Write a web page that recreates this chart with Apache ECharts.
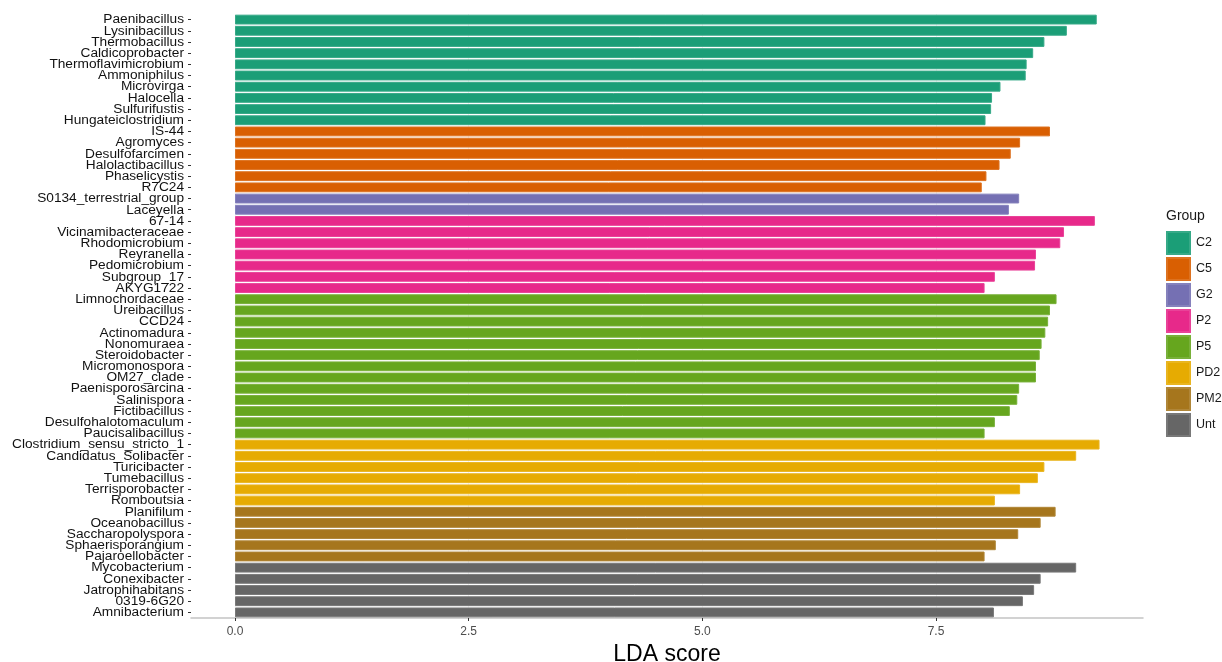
<!DOCTYPE html>
<html>
<head>
<meta charset="utf-8">
<title>LDA score</title>
<script src="https://cdn.jsdelivr.net/npm/echarts@6/dist/echarts.min.js"></script>
<style>
  html, body { margin: 0; padding: 0; background: #fff; }
  #lda-chart { width: 1222px; height: 662px; }
</style>
</head>
<body>
<div id="lda-chart"></div>
<script>
// genus names, top to bottom
const categories = [
  'Paenibacillus', 'Lysinibacillus', 'Thermobacillus', 'Caldicoprobacter', 'Thermoflavimicrobium',
  'Ammoniphilus', 'Microvirga', 'Halocella', 'Sulfurifustis', 'Hungateiclostridium',
  'IS-44', 'Agromyces', 'Desulfofarcimen', 'Halolactibacillus', 'Phaselicystis', 'R7C24',
  'S0134_terrestrial_group', 'Laceyella',
  '67-14', 'Vicinamibacteraceae', 'Rhodomicrobium', 'Reyranella', 'Pedomicrobium', 'Subgroup_17', 'AKYG1722',
  'Limnochordaceae', 'Ureibacillus', 'CCD24', 'Actinomadura', 'Nonomuraea', 'Steroidobacter',
  'Micromonospora', 'OM27_clade', 'Paenisporosarcina', 'Salinispora', 'Fictibacillus',
  'Desulfohalotomaculum', 'Paucisalibacillus',
  'Clostridium_sensu_stricto_1', 'Candidatus_Solibacter', 'Turicibacter', 'Tumebacillus',
  'Terrisporobacter', 'Romboutsia',
  'Planifilum', 'Oceanobacillus', 'Saccharopolyspora', 'Sphaerisporangium', 'Pajaroellobacter',
  'Mycobacterium', 'Conexibacter', 'Jatrophihabitans', '0319-6G20', 'Amnibacterium'
];

// group of each genus
const groups = [
  'C2', 'C2', 'C2', 'C2', 'C2', 'C2', 'C2', 'C2', 'C2', 'C2',
  'C5', 'C5', 'C5', 'C5', 'C5', 'C5',
  'G2', 'G2',
  'P2', 'P2', 'P2', 'P2', 'P2', 'P2', 'P2',
  'P5', 'P5', 'P5', 'P5', 'P5', 'P5', 'P5', 'P5', 'P5', 'P5', 'P5', 'P5', 'P5',
  'PD2', 'PD2', 'PD2', 'PD2', 'PD2', 'PD2',
  'PM2', 'PM2', 'PM2', 'PM2', 'PM2',
  'Unt', 'Unt', 'Unt', 'Unt', 'Unt'
];

// LDA scores
const ldaScores = [
  9.22, 8.90, 8.66, 8.54, 8.47, 8.46, 8.19, 8.10, 8.09, 8.03,
  8.72, 8.40, 8.30, 8.18, 8.04, 7.99,
  8.39, 8.28,
  9.20, 8.87, 8.83, 8.57, 8.56, 8.13, 8.02,
  8.79, 8.72, 8.70, 8.67, 8.63, 8.61, 8.57, 8.57, 8.39, 8.37, 8.29, 8.13, 8.02,
  9.25, 9.00, 8.66, 8.59, 8.40, 8.13,
  8.78, 8.62, 8.38, 8.14, 8.02,
  9.00, 8.62, 8.55, 8.43, 8.12
];

const groupNames = ['C2', 'C5', 'G2', 'P2', 'P5', 'PD2', 'PM2', 'Unt'];
const groupColors = ['#1B9E77', '#D95F02', '#7570B3', '#E7298A', '#66A61E', '#E6AB02', '#A6761D', '#666666'];

const tickValues = [0, 2.5, 5, 7.5];

function initChart() {
  const chart = echarts.init(document.getElementById('lda-chart'), null, {renderer: 'canvas'});

  // one series per group, stacked so every bar takes the full band
  const series = groupNames.map((g, gi) => ({
    name: g,
    type: 'bar',
    stack: 'all',
    barWidth: '88%',
    itemStyle: {
      color: groupColors[gi],
      borderColor: echarts.color.lift(groupColors[gi], 0.12),
      borderWidth: 1
    },
    emphasis: {disabled: true},
    data: ldaScores.map((v, i) => (groups[i] === g ? v : null))
  }));

  const option = {
    animation: false,
    textStyle: {fontFamily: 'Liberation Sans, Arial, sans-serif'},
    title: {
      text: 'Group',
      left: 1166,
      top: 209,
      padding: 0,
      textStyle: {fontSize: 14, fontWeight: 'normal', color: '#1a1a1a'}
    },
    legend: {
      data: groupNames,
      orient: 'vertical',
      left: 1166,
      top: 231,
      padding: 0,
      icon: 'rect',
      itemWidth: 23,
      itemHeight: 22,
      itemGap: 2,
      selectedMode: false,
      textStyle: {fontSize: 12.5, color: '#1a1a1a', padding: [0, 0, 0, 1]}
    },
    grid: {
      left: 191,
      right: 79,
      top: 14,
      bottom: 44,
      containLabel: false,
      outerBoundsMode: 'none'
    },
    xAxis: {
      type: 'value',
      min: -0.471,
      max: 9.715,
      name: 'LDA score',
      nameLocation: 'middle',
      nameGap: 19,
      nameTextStyle: {fontSize: 23, color: '#000'},
      axisLine: {show: true, lineStyle: {color: '#c4c4c4', width: 1.5}},
      axisTick: {show: true, length: 3, customValues: tickValues, lineStyle: {color: '#333'}},
      axisLabel: {
        customValues: tickValues,
        fontSize: 12,
        color: '#4d4d4d',
        margin: 8,
        formatter: v => v.toFixed(1)
      },
      splitLine: {show: true, lineStyle: {color: '#f2f2f2', width: 1}}
    },
    yAxis: {
      type: 'category',
      inverse: true,
      data: categories,
      axisLine: {show: false, onZero: false},
      axisTick: {show: true, length: 3, alignWithLabel: true, lineStyle: {color: '#333'}},
      axisLabel: {fontSize: 13.7, color: '#111', margin: 7, interval: 0}
    },
    series: series
  };

  chart.setOption(option);
}

initChart();
</script>
</body>
</html>
